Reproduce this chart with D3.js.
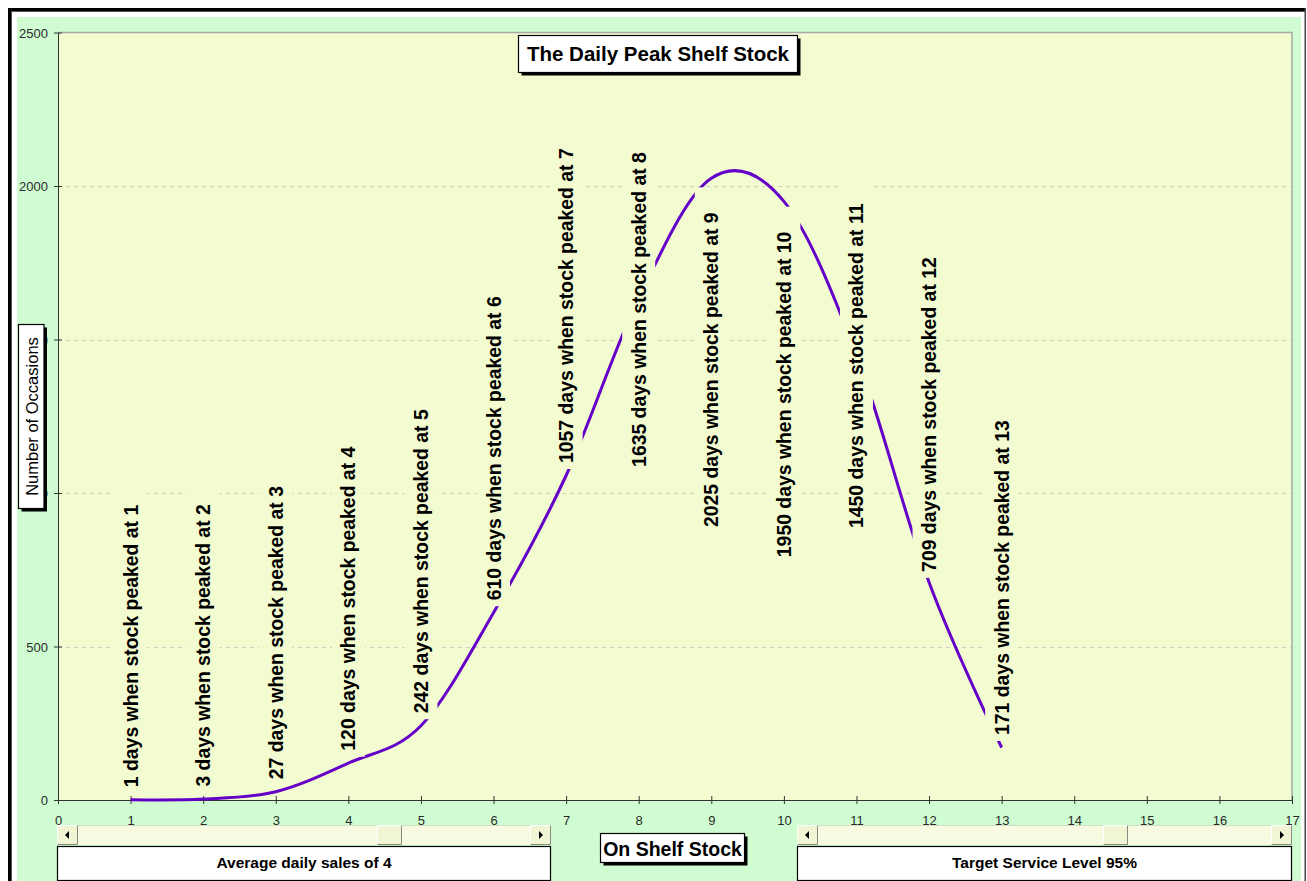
<!DOCTYPE html>
<html>
<head>
<meta charset="utf-8">
<script src="https://cdn.jsdelivr.net/npm/d3@7"></script>
<style>
  html, body { margin: 0; padding: 0; background: #ffffff; }
  svg { display: block; font-family: "Liberation Sans", Arial, sans-serif; }
</style>
</head>
<body>
<script>
// ---------- data ----------
const stockLevels = [1, 2, 3, 4, 5, 6, 7, 8, 9, 10, 11, 12, 13];
const occasions   = [1, 3, 27, 120, 242, 610, 1057, 1635, 2025, 1950, 1450, 709, 171];
// manually placed label anchors (value where label text starts); null = default "above"
const labelAnchor = [null, null, null, null, null, null, null, 1085, 889, 791, 886, 743, null];
const xTickValues = [0, 1, 2, 3, 4, 5, 6, 7, 8, 9, 10, 11, 12, 13, 14, 15, 16, 17];
const yTickValues = [0, 500, 1000, 1500, 2000, 2500];
const chartTitle = "The Daily Peak Shelf Stock";
const xTitle = "On Shelf Stock";
const yTitle = "Number of Occasions";
const leftControlText = "Average daily sales of 4";
const rightControlText = "Target Service Level 95%";

// ---------- layout ----------
const W = 1307, H = 881;
const plot = { left: 58, right: 1292, top: 32.5, bottom: 800 };
const plotBg = "#f3fcd0", chartBg = "#cffdd1", lineColor = "#6400c8";

const svg = d3.select("body").append("svg").attr("width", W).attr("height", H);

// window frame
svg.append("rect").attr("x", 0).attr("y", 0).attr("width", W).attr("height", H).attr("fill", "#ffffff");
svg.append("rect").attr("x", 8).attr("y", 8).attr("width", 3).attr("height", H - 8).attr("fill", "#000");
svg.append("rect").attr("x", 11).attr("y", 11).attr("width", 1).attr("height", H - 11).attr("fill", "#555");
svg.append("rect").attr("x", 8).attr("y", 8).attr("width", 1298).attr("height", 3).attr("fill", "#000");
svg.append("rect").attr("x", 11).attr("y", 11).attr("width", 1294).attr("height", 1).attr("fill", "#555");
svg.append("rect").attr("x", 1304.5).attr("y", 8).attr("width", 1.5).attr("height", H - 8).attr("fill", "#444");

// chart area
svg.append("rect").attr("x", 17).attr("y", 17).attr("width", 1284).attr("height", H - 17).attr("fill", chartBg);
svg.append("rect").attr("x", plot.left).attr("y", plot.top)
  .attr("width", plot.right - plot.left).attr("height", plot.bottom - plot.top).attr("fill", plotBg);

const x = d3.scaleLinear().domain([0, 17]).range([plot.left, plot.right]);
const y = d3.scaleLinear().domain([0, 2500]).range([plot.bottom, plot.top]);

// gridlines
svg.append("g").selectAll("line").data(yTickValues.filter(v => v > 0 && v < 2500)).join("line")
  .attr("x1", plot.left).attr("x2", plot.right)
  .attr("y1", d => Math.round(y(d)) + 0.5).attr("y2", d => Math.round(y(d)) + 0.5)
  .attr("stroke", "#cfcfc4").attr("stroke-width", 1).attr("stroke-dasharray", "4,4");

// plot border (top & right)
svg.append("path")
  .attr("d", `M${plot.left},${y(2500)}H${plot.right}V${plot.bottom}`)
  .attr("fill", "none").attr("stroke", "#a8a8a8").attr("stroke-width", 1.5);

// axes
const yAxis = svg.append("g").attr("transform", `translate(${plot.left},0)`)
  .call(d3.axisLeft(y).tickValues(yTickValues).tickSizeInner(4).tickSizeOuter(0).tickFormat(d3.format("d")));
yAxis.select(".domain").attr("stroke", "#333");
yAxis.selectAll(".tick line").attr("x1", 4).attr("x2", -4).attr("stroke", "#333");
yAxis.selectAll(".tick text").attr("x", -10).attr("dy", "0.36em")
  .attr("font-size", 13).attr("fill", "#2a2a2a").attr("font-family", "Liberation Sans, Arial, sans-serif");

const xAxis = svg.append("g").attr("transform", `translate(0,${plot.bottom})`)
  .call(d3.axisBottom(x).tickValues(xTickValues).tickSizeInner(4).tickSizeOuter(0).tickFormat(d3.format("d")));
xAxis.select(".domain").attr("stroke", "#333");
xAxis.selectAll(".tick line").attr("y1", -4).attr("y2", 4).attr("stroke", "#333");
xAxis.selectAll(".tick text").attr("y", 25).attr("dy", 0)
  .attr("font-size", 13).attr("fill", "#2a2a2a").attr("font-family", "Liberation Sans, Arial, sans-serif");

// data line
const pts = stockLevels.map((s, i) => [s, occasions[i]]);
const line = d3.line().x(d => x(d[0])).y(d => y(d[1])).curve(d3.curveCardinal.tension(0));
svg.append("path").datum(pts).attr("d", line)
  .attr("fill", "none").attr("stroke", lineColor).attr("stroke-width", 3)
  .attr("stroke-linejoin", "round");

// data labels
const labelFont = 19.4;
const lg = svg.append("g");
pts.forEach((p, i) => {
  const cx = x(p[0]);
  const start = labelAnchor[i] == null ? y(p[1]) - 12.5 : y(labelAnchor[i]);
  const g = lg.append("g");
  const bg = g.append("rect");
  const t = g.append("text")
    .attr("transform", `translate(${cx},${start}) rotate(-90)`)
    .attr("text-anchor", "start").attr("dominant-baseline", "central")
    .attr("font-size", labelFont).attr("font-weight", "bold").attr("fill", "#000")
    .text(`${p[1]} days when stock peaked at ${p[0]}`);
  const len = t.node().getComputedTextLength();
  const top = start - len - 25, bottom = start + 6;
  bg.attr("x", cx - 16.5).attr("y", top).attr("width", 33).attr("height", bottom - top).attr("fill", plotBg);
});

// boxed text helper
function box(x0, y0, w, h, shadow) {
  if (shadow) svg.append("rect").attr("x", x0 + 3).attr("y", y0 + 3).attr("width", w).attr("height", h).attr("fill", "#000");
  svg.append("rect").attr("x", x0).attr("y", y0).attr("width", w).attr("height", h)
    .attr("fill", "#fff").attr("stroke", "#000").attr("stroke-width", 1.2);
}

// chart title
box(518.5, 35.5, 279, 37, true);
svg.append("text").attr("x", 658).attr("y", 60.5).attr("text-anchor", "middle")
  .attr("font-size", 20.5).attr("font-weight", "bold").text(chartTitle);

// y axis title
box(18.5, 324.5, 25.5, 184, true);
svg.append("text").attr("transform", "translate(31.5,416.5) rotate(-90)")
  .attr("text-anchor", "middle").attr("dominant-baseline", "central")
  .attr("font-size", 16.5).text(yTitle);

// x axis title
box(600.5, 833.5, 144, 29, true);
svg.append("text").attr("x", 672.5).attr("y", 855.5).attr("text-anchor", "middle")
  .attr("font-size", 19.5).attr("font-weight", "bold").text(xTitle);

// scrollbar controls
function scrollbar(x0, x1, thumbX) {
  const y0 = 825, h = 20;
  const g = svg.append("g");
  g.append("rect").attr("x", x0).attr("y", y0).attr("width", x1 - x0).attr("height", h).attr("fill", "#f8fbe2");
  g.append("line").attr("x1", x0).attr("x2", x1).attr("y1", y0 + 0.5).attr("y2", y0 + 0.5).attr("stroke", "#d8dcc0");
  function button(bx, bw) {
    g.append("rect").attr("x", bx).attr("y", y0).attr("width", bw).attr("height", h).attr("fill", "#f1f5d3");
    g.append("path").attr("d", `M${bx + 0.5},${y0 + h - 0.5}V${y0 + 0.5}H${bx + bw - 0.5}`).attr("fill", "none").attr("stroke", "#ffffff");
    g.append("path").attr("d", `M${bx + bw - 0.5},${y0 + 0.5}V${y0 + h - 0.5}H${bx + 0.5}`).attr("fill", "none").attr("stroke", "#8a8a80");
  }
  button(x0, 21);
  button(x1 - 21, 21);
  button(thumbX, 25);
  const cyA = y0 + h / 2;
  g.append("path").attr("d", `M${x0 + 8},${cyA}L${x0 + 12},${cyA - 4}V${cyA + 4}Z`).attr("fill", "#000");
  g.append("path").attr("d", `M${x1 - 8},${cyA}L${x1 - 12},${cyA - 4}V${cyA + 4}Z`).attr("fill", "#000");
}
scrollbar(57, 551, 377);
scrollbar(797, 1292, 1103);

// control labels
box(57.5, 846.5, 493, 34, false);
svg.append("text").attr("x", 304).attr("y", 868).attr("text-anchor", "middle")
  .attr("font-size", 15.5).attr("font-weight", "bold").text(leftControlText);
box(797.5, 846.5, 494, 34, false);
svg.append("text").attr("x", 1044.5).attr("y", 868).attr("text-anchor", "middle")
  .attr("font-size", 15.5).attr("font-weight", "bold").text(rightControlText);
</script>
</body>
</html>
